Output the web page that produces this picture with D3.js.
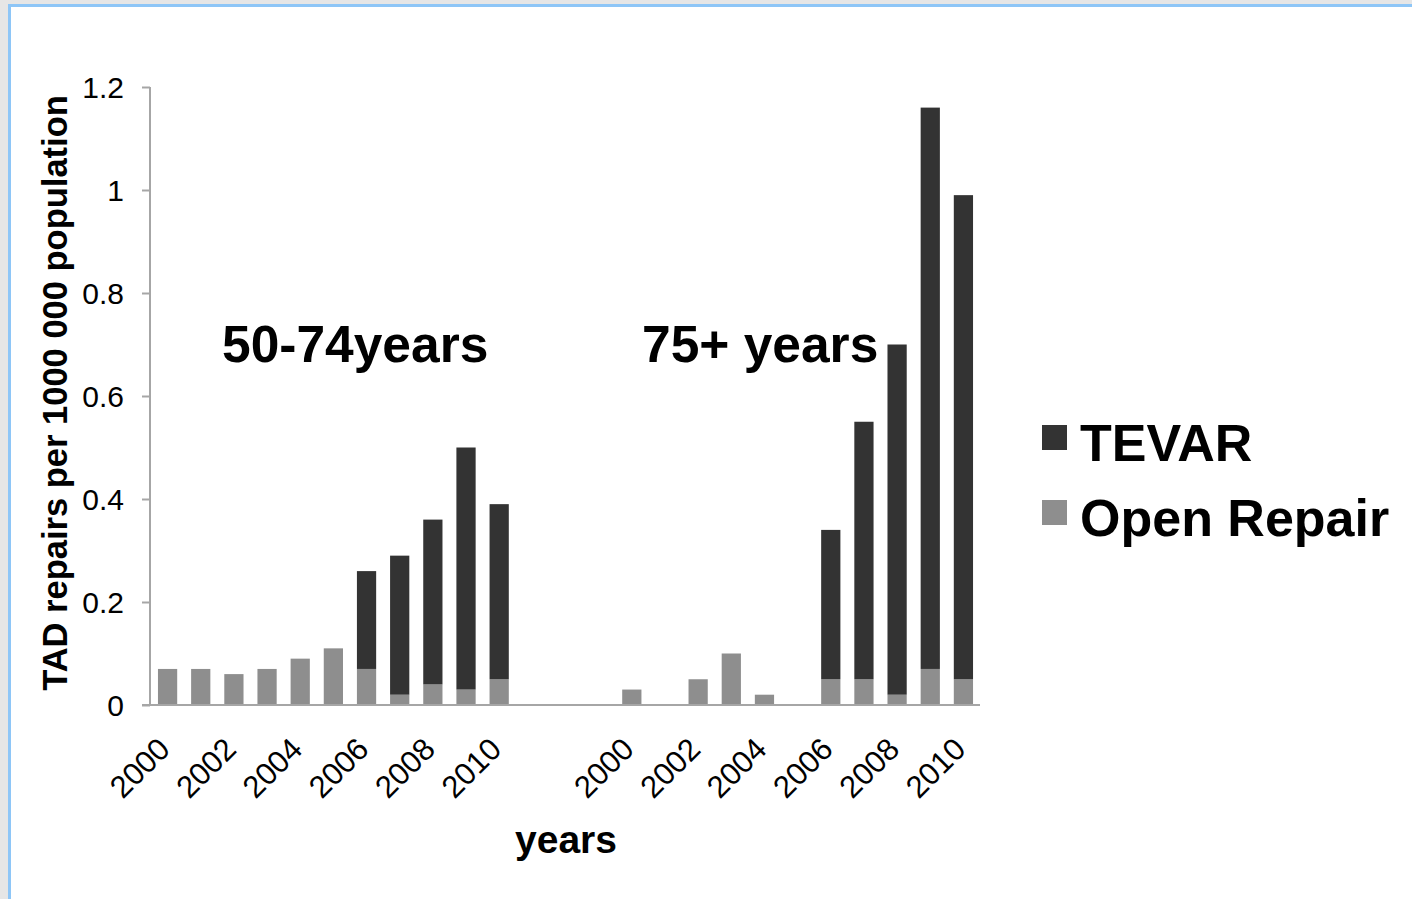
<!DOCTYPE html>
<html>
<head>
<meta charset="utf-8">
<script src="https://cdn.jsdelivr.net/npm/d3@7"></script>
<style>
  html, body { margin: 0; padding: 0; background: #e6e6e6; }
  svg { display: block; font-family: "Liberation Sans", Arial, sans-serif; }
</style>
</head>
<body>
<svg id="chart" width="1412" height="899"></svg>
<script>
// Thoracic aortic dissection repairs per 1 000 000 population, by age group
const years = ["2000","2001","2002","2003","2004","2005","2006","2007","2008","2009","2010"];
const groups = ["50-74years", "75+ years"];
const openRepair5074 = [0.07, 0.07, 0.06, 0.07, 0.09, 0.11, 0.07, 0.02, 0.04, 0.03, 0.05];
const tevar5074      = [0,    0,    0,    0,    0,    0,    0.19, 0.27, 0.32, 0.47, 0.34];
const openRepair75   = [0.03, 0,    0.05, 0.10, 0.02, 0,    0.05, 0.05, 0.02, 0.07, 0.05];
const tevar75        = [0,    0,    0,    0,    0,    0,    0.29, 0.50, 0.68, 1.09, 0.94];
const yTicks = [0, 0.2, 0.4, 0.6, 0.8, 1, 1.2];
const yTickLabels = ["0", "0.2", "0.4", "0.6", "0.8", "1", "1.2"];
const labelledYears = ["2000","2002","2004","2006","2008","2010"];
const seriesNames = ["TEVAR", "Open Repair"];
const seriesColors = { "TEVAR": "#333333", "Open Repair": "#8e8e8e" };
const gapSlots = 3;

// Build the category list: group 1 years, empty spacer slots, group 2 years
const rows = [];
years.forEach((y, i) => rows.push({ key: "a" + y, year: y, open: openRepair5074[i], tevar: tevar5074[i] }));
for (let g = 0; g < gapSlots; g++) rows.push({ key: "gap" + g, year: "", open: 0, tevar: 0 });
years.forEach((y, i) => rows.push({ key: "b" + y, year: y, open: openRepair75[i], tevar: tevar75[i] }));

const svg = d3.select("#chart");

// page frame
svg.append("rect").attr("x", 9.5).attr("y", 5.5).attr("width", 1420).attr("height", 920)
  .attr("fill", "#ffffff").attr("stroke", "#8ec6f7").attr("stroke-width", 3);

const x = d3.scaleBand().domain(rows.map(d => d.key)).range([151, 980])
  .paddingInner(0.42).paddingOuter(0.21);
const y = d3.scaleLinear().domain([0, 1.2]).range([705, 87]);

const stack = d3.stack().keys(["open", "tevar"]);
const layers = stack(rows);
const layerColor = { open: seriesColors["Open Repair"], tevar: seriesColors["TEVAR"] };

svg.append("g").selectAll("g").data(layers).join("g")
  .attr("fill", d => layerColor[d.key])
  .selectAll("rect").data(d => d.filter(s => s[1] - s[0] > 0)).join("rect")
  .attr("x", d => x(d.data.key))
  .attr("width", x.bandwidth())
  .attr("y", d => y(d[1]))
  .attr("height", d => y(d[0]) - y(d[1]));

// y axis
const yAxis = d3.axisLeft(y).tickValues(yTicks).tickSize(8)
  .tickFormat((d, i) => yTickLabels[i]).tickPadding(18);
const gy = svg.append("g").attr("transform", "translate(150,0)").call(yAxis);
gy.select(".domain").attr("stroke", "#a6a6a6").attr("stroke-width", 2).attr("d", "M0,87V705");
gy.selectAll(".tick line").attr("stroke", "#a6a6a6").attr("stroke-width", 2);
gy.selectAll(".tick text").attr("font-size", 30).attr("fill", "#000")
  .attr("font-family", "Liberation Sans, Arial, sans-serif").attr("dy", "0.36em");

// x axis baseline and rotated year labels
const xAxis = d3.axisBottom(x).tickSize(0)
  .tickValues(rows.filter(d => labelledYears.includes(d.year)).map(d => d.key))
  .tickFormat(k => rows.find(r => r.key === k).year);
const gx = svg.append("g").attr("transform", "translate(0,705)").call(xAxis);
gx.select(".domain").attr("stroke", "#a6a6a6").attr("stroke-width", 2).attr("d", "M142,0H980");
gx.selectAll(".tick text")
  .attr("font-size", 31).attr("fill", "#000")
  .attr("font-family", "Liberation Sans, Arial, sans-serif")
  .attr("text-anchor", "end")
  .attr("dy", null).attr("y", 0)
  .attr("transform", "translate(4,46) rotate(-45)");

// axis titles
svg.append("text").attr("transform", "translate(67,393) rotate(-90)")
  .attr("text-anchor", "middle").attr("font-weight", "bold").attr("font-size", 34.5)
  .text("TAD repairs per 1000 000 population");
svg.append("text").attr("x", 566).attr("y", 853)
  .attr("text-anchor", "middle").attr("font-weight", "bold").attr("font-size", 39)
  .text("years");

// group annotations
const groupLabelX = [222, 642];
svg.append("g").selectAll("text").data(groups).join("text")
  .attr("x", (d, i) => groupLabelX[i]).attr("y", 362)
  .attr("font-weight", "bold").attr("font-size", 51.5)
  .text(d => d);

// legend
const legend = svg.append("g").attr("transform", "translate(1042,425)")
  .selectAll("g").data(seriesNames).join("g")
  .attr("transform", (d, i) => `translate(0,${i * 75})`);
legend.append("rect").attr("width", 25).attr("height", 25).attr("fill", d => seriesColors[d]);
legend.append("text").attr("x", 38).attr("y", 36)
  .attr("font-weight", "bold").attr("font-size", 52).text(d => d);
</script>
</body>
</html>
